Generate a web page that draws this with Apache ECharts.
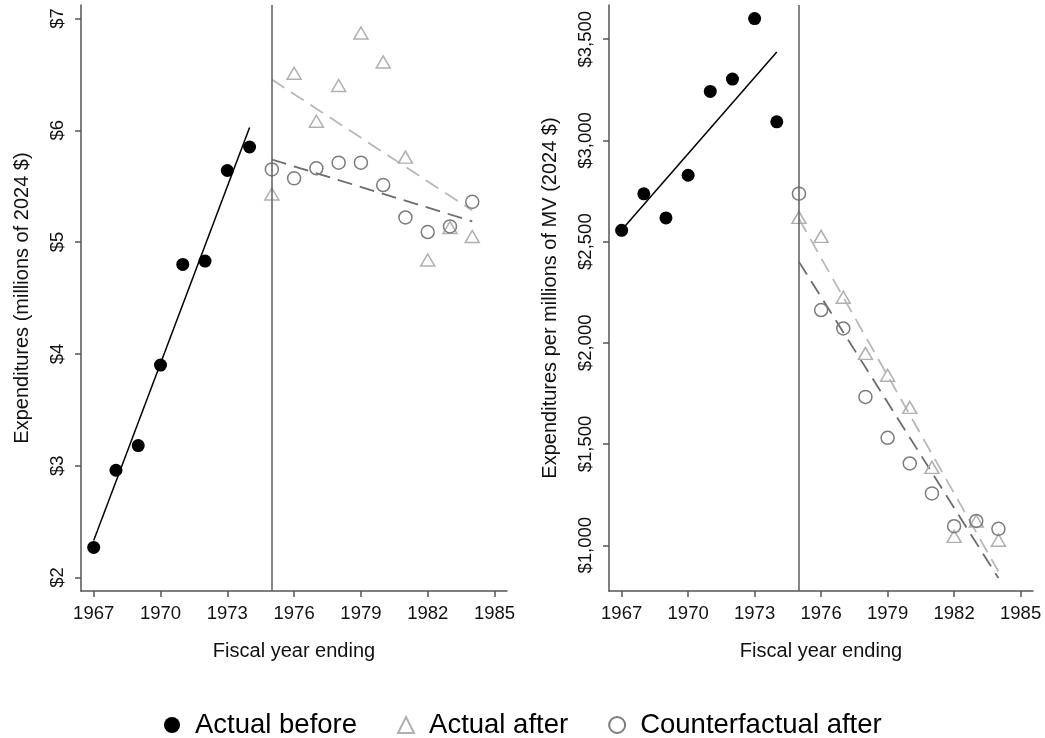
<!DOCTYPE html>
<html>
<head>
<meta charset="utf-8">
<script src="https://cdn.jsdelivr.net/npm/echarts@6/dist/echarts.min.js"></script>
<style>
html,body{margin:0;padding:0;background:#fff;}
#chart{width:1045px;height:738px;}
</style>
</head>
<body>
<div id="chart"></div>
<script>
// ---- data ----
const yearsBefore = [1967, 1968, 1969, 1970, 1971, 1972, 1973, 1974];
const yearsAfter = [1975, 1976, 1977, 1978, 1979, 1980, 1981, 1982, 1983, 1984];
const treatmentYear = 1975;

// Left panel: Expenditures (millions of 2024 $)
const leftActualBefore = [2.27, 2.96, 3.18, 3.90, 4.80, 4.83, 5.64, 5.85];
const leftActualAfter = [5.43, 6.51, 6.08, 6.40, 6.87, 6.61, 5.76, 4.84, 5.13, 5.05];
const leftCounterAfter = [5.65, 5.57, 5.66, 5.71, 5.71, 5.51, 5.22, 5.09, 5.14, 5.36];

// Right panel: Expenditures per millions of MV (2024 $)
const rightActualBefore = [2556, 2736, 2617, 2828, 3242, 3303, 3602, 3092];
const rightActualAfter = [2620, 2526, 2225, 1948, 1840, 1681, 1385, 1044, 1120, 1025];
const rightCounterAfter = [2737, 2162, 2071, 1733, 1531, 1404, 1256, 1094, 1120, 1081];

// tick labels
const xTicks = [1967, 1970, 1973, 1976, 1979, 1982, 1985];
const leftYTicks = [2, 3, 4, 5, 6, 7];
const rightYTicks = [1000, 1500, 2000, 2500, 3000, 3500];

const legendNames = ['Actual before', 'Actual after', 'Counterfactual after'];
const leftTitle = 'Expenditures (millions of 2024 $)';
const rightTitle = 'Expenditures per millions of MV (2024 $)';
const xTitle = 'Fiscal year ending';

// ---- helpers ----
function pairs(xs, ys) { return xs.map((x, i) => [x, ys[i]]); }
function fitLine(xs, ys) {
  const n = xs.length;
  const mx = xs.reduce((a, b) => a + b, 0) / n;
  const my = ys.reduce((a, b) => a + b, 0) / n;
  let sxy = 0, sxx = 0;
  for (let i = 0; i < n; i++) { sxy += (xs[i] - mx) * (ys[i] - my); sxx += (xs[i] - mx) * (xs[i] - mx); }
  const b = sxy / sxx, a = my - b * mx;
  return [[xs[0], a + b * xs[0]], [xs[n - 1], a + b * xs[n - 1]]];
}

const FONT = "'Liberation Sans', Arial, sans-serif";
const AX = '#555';
const TRI = '#b0b0b0';
const CIR = '#7c7c7c';

function xAxis(gi) {
  return {
    type: 'value', gridIndex: gi, min: 1966.43, max: 1985.56,
    axisLine: { show: true, onZero: false, lineStyle: { color: AX, width: 1.5 } },
    axisTick: { show: true, length: 6, customValues: xTicks, lineStyle: { color: AX, width: 1.5 } },
    axisLabel: { customValues: xTicks, fontSize: 18.5, color: '#111', margin: 13, fontFamily: FONT, formatter: v => String(v) },
    splitLine: { show: false },
    name: xTitle, nameLocation: 'middle', nameGap: 50,
    nameTextStyle: { fontSize: 20, color: '#111', fontFamily: FONT }
  };
}
function yAxis(gi, min, max, ticks, fmt, title) {
  return {
    type: 'value', gridIndex: gi, min: min, max: max,
    axisLine: { show: true, onZero: false, lineStyle: { color: AX, width: 1.5 } },
    axisTick: { show: true, length: 6, customValues: ticks, lineStyle: { color: AX, width: 1.5 } },
    axisLabel: { customValues: ticks, rotate: 90, fontSize: 18.5, color: '#111', margin: 14, fontFamily: FONT, formatter: fmt },
    splitLine: { show: false },
    name: title, nameLocation: 'middle', nameGap: 49, nameRotate: 90,
    nameTextStyle: { fontSize: 20, color: '#111', fontFamily: FONT }
  };
}

function panelSeries(gi, before, after, counter) {
  return [
    {
      name: legendNames[0], type: 'scatter', xAxisIndex: gi, yAxisIndex: gi,
      data: pairs(yearsBefore, before), symbol: 'circle', symbolSize: 13,
      itemStyle: { color: '#000', opacity: 1 }, z: 4
    },
    {
      name: legendNames[1], type: 'scatter', xAxisIndex: gi, yAxisIndex: gi,
      data: pairs(yearsAfter, after), symbol: 'triangle', symbolSize: [14, 12],
      itemStyle: { color: 'rgba(255,255,255,0)', borderColor: TRI, borderWidth: 1.5, opacity: 1 }, z: 4
    },
    {
      name: legendNames[2], type: 'scatter', xAxisIndex: gi, yAxisIndex: gi,
      data: pairs(yearsAfter, counter), symbol: 'circle', symbolSize: 13,
      itemStyle: { color: 'rgba(255,255,255,0)', borderColor: CIR, borderWidth: 1.5, opacity: 1 }, z: 4
    },
    {
      name: 'fitBefore' + gi, type: 'line', xAxisIndex: gi, yAxisIndex: gi,
      data: fitLine(yearsBefore, before), symbol: 'none', silent: true,
      lineStyle: { color: '#000', width: 1.5 }, z: 3,
      markLine: {
        silent: true, symbol: 'none', label: { show: false },
        lineStyle: { color: '#666', width: 1.6, type: 'solid' },
        data: [{ xAxis: treatmentYear }]
      }
    },
    {
      name: 'fitAfter' + gi, type: 'line', xAxisIndex: gi, yAxisIndex: gi,
      data: fitLine(yearsAfter, after), symbol: 'none', silent: true,
      lineStyle: { color: '#b8b8b8', width: 1.8, type: [15, 8] }, z: 3
    },
    {
      name: 'fitCounter' + gi, type: 'line', xAxisIndex: gi, yAxisIndex: gi,
      data: fitLine(yearsAfter, counter), symbol: 'none', silent: true,
      lineStyle: { color: '#6c6c6c', width: 1.8, type: [15, 8] }, z: 3
    }
  ];
}

const chart = echarts.init(document.getElementById('chart'), null, { renderer: 'canvas' });
chart.setOption({
  animation: false,
  backgroundColor: '#fff',
  textStyle: { fontFamily: FONT },
  grid: [
    { left: 81, top: 5, width: 426, height: 586 },
    { left: 609, top: 5, width: 424, height: 586 }
  ],
  xAxis: [xAxis(0), xAxis(1)],
  yAxis: [
    yAxis(0, 1.88, 7.12, leftYTicks, v => '$' + v, leftTitle),
    yAxis(1, 774, 3669, rightYTicks, v => '$' + v.toLocaleString('en-US'), rightTitle)
  ],
  legend: {
    data: legendNames, left: 159, top: 706, itemWidth: 16, itemHeight: 16, itemGap: 40,
    textStyle: { fontSize: 27.5, color: '#000', fontFamily: FONT, padding: [0, 0, 0, 10] },
    selectedMode: false
  },
  series: [
    ...panelSeries(0, leftActualBefore, leftActualAfter, leftCounterAfter),
    ...panelSeries(1, rightActualBefore, rightActualAfter, rightCounterAfter)
  ]
});
</script>
</body>
</html>
